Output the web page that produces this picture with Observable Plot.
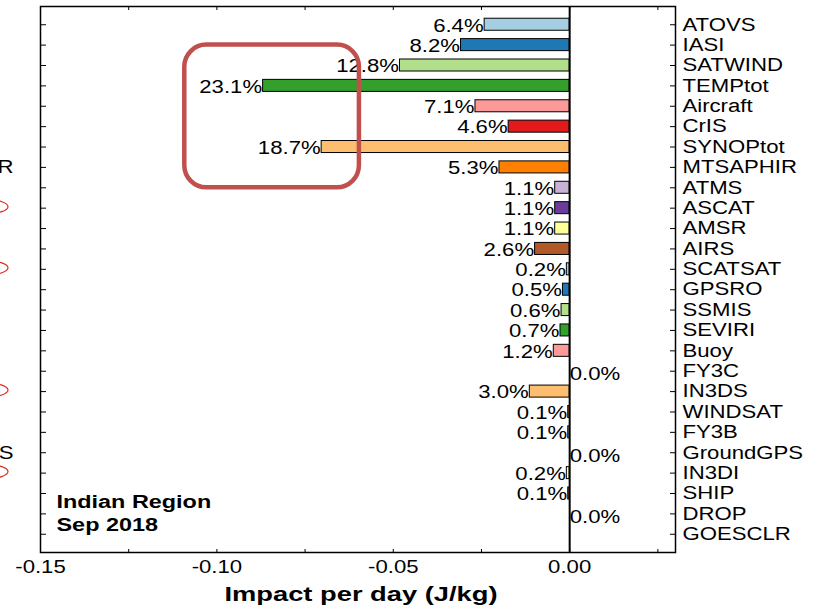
<!DOCTYPE html>
<html><head><meta charset="utf-8">
<script src="https://cdn.jsdelivr.net/npm/d3@7"></script>
<script src="https://cdn.jsdelivr.net/npm/@observablehq/plot@0.6"></script>
<style>
html,body{margin:0;padding:0;background:#fff;}
#chart svg{display:block;font-family:"Liberation Sans",Arial,sans-serif;}
</style></head><body><div id="chart"></div>
<script>
const instruments = ["ATOVS","IASI","SATWIND","TEMPtot","Aircraft","CrIS","SYNOPtot","MTSAPHIR","ATMS","ASCAT","AMSR","AIRS","SCATSAT","GPSRO","SSMIS","SEVIRI","Buoy","FY3C","IN3DS","WINDSAT","FY3B","GroundGPS","IN3DI","SHIP","DROP","GOESCLR"];
const impact = [-0.0241,-0.0308,-0.0481,-0.0869,-0.0267,-0.0173,-0.0703,-0.0199,-0.0041,-0.0041,-0.0041,-0.0098,-0.0008,-0.0019,-0.0023,-0.0026,-0.0045,0,-0.0113,-0.0004,-0.0004,0,-0.0008,-0.0004,0,0];
const shareLabels = ["6.4%","8.2%","12.8%","23.1%","7.1%","4.6%","18.7%","5.3%","1.1%","1.1%","1.1%","2.6%","0.2%","0.5%","0.6%","0.7%","1.2%","0.0%","3.0%","0.1%","0.1%","0.0%","0.2%","0.1%","0.0%",null];
const palette = ["#a6cee3","#1f78b4","#b2df8a","#33a02c","#fb9a99","#e31a1c","#fdbf6f","#ff7f00","#cab2d6","#6a3d9a","#ffff99","#b15928",
                 "#a6cee3","#1f78b4","#b2df8a","#33a02c","#fb9a99","#e31a1c","#fdbf6f","#ff7f00","#cab2d6","#6a3d9a","#ffff99","#b15928",
                 "#a6cee3","#1f78b4"];
const xTicks = [-0.15,-0.10,-0.05,0.00];
const xMinorTicks = [-0.15,-0.125,-0.10,-0.075,-0.05,-0.025,0.00,0.025];
const regionText = ["Indian Region","Sep 2018"];
const xTitle = "Impact per day (J/kg)";
const highlight = {x1:-0.1091, x2:-0.0596, from:"IASI", to:"ATMS"};
const neighbourCircled = ["ASCAT","SCATSAT","IN3DS","IN3DI"];
const neighbourRows = ["MTSAPHIR","GroundGPS"];
const neighbourFragments = ["R","S"];

const rows = instruments.map((name,i)=>({name, value: impact[i], label: shareLabels[i]}));
const neighbours = neighbourRows.map((name,i)=>({name, text: neighbourFragments[i]}));
const FONT = '"Liberation Sans",Arial,sans-serif';

const chart = Plot.plot({
  width: 827, height: 616,
  marginTop: 6, marginBottom: 64, marginLeft: 40, marginRight: 152,
  style: {fontFamily: FONT, fontSize: "18px", color: "black", background: "white"},
  x: {domain: [-0.15, 0.03], axis: null},
  y: {domain: instruments, type: "band", paddingInner: 0.41, paddingOuter: 0.6, round: false, axis: null},
  color: {domain: instruments, range: palette},
  marks: [
    Plot.barX(rows, {x: "value", y: "name", fill: "name", stroke: "black", strokeWidth: 1}),
    Plot.ruleX([0], {stroke: "black", strokeWidth: 2}),
    Plot.frame({stroke: "black", strokeWidth: 1.5}),
    Plot.axisX({anchor: "bottom", ticks: xMinorTicks, tickSize: -3, tickFormat: () => "", label: null}),
    Plot.axisX({anchor: "top", ticks: xMinorTicks, tickSize: -3, tickFormat: () => "", label: null}),
    Plot.axisX({anchor: "bottom", ticks: xTicks, tickSize: 0, tickPadding: 8, tickFormat: d => d.toFixed(2), label: null, fontSize: 18}),
    Plot.axisY({anchor: "left", tickSize: -6, tickFormat: () => "", label: null}),
    Plot.axisY({anchor: "right", tickSize: -6, tickFormat: () => "", label: null}),
    Plot.axisY({anchor: "right", tickSize: 0, tickPadding: 7, label: null, fontSize: 18}),
    Plot.text(rows.filter(d => d.label && d.value < 0), {x: "value", y: "name", text: "label", textAnchor: "end", dx: -1, dy: 1, fontSize: 18}),
    Plot.text(rows.filter(d => d.label && d.value === 0), {x: "value", y: "name", text: "label", textAnchor: "start", dx: 0, dy: 3, fontSize: 18}),
    Plot.text([regionText[0]], {frameAnchor: "bottom-left", dx: 16, dy: -45, fontWeight: "bold", fontSize: 18, textAnchor: "start"}),
    Plot.text([regionText[1]], {frameAnchor: "bottom-left", dx: 16, dy: -22, fontWeight: "bold", fontSize: 18, textAnchor: "start"}),
    Plot.text([xTitle], {frameAnchor: "bottom", dx: 3, dy: 48, fontWeight: "bold", fontSize: 21}),
    Plot.text(neighbours, {y: "name", text: "text", frameAnchor: "left", dx: -27, textAnchor: "end", fontSize: 18})
  ]
});
document.getElementById("chart").append(chart);

// annotations drawn with the chart's own scales
const sx = chart.scale("x"), sy = chart.scale("y");
const svg = d3.select(chart.tagName.toLowerCase() === "svg" ? chart : chart.querySelector("svg"));
const yc = n => sy.apply(n) + sy.bandwidth / 2;
const hx1 = sx.apply(highlight.x1), hx2 = sx.apply(highlight.x2);
const hy1 = yc(highlight.from), hy2 = yc(highlight.to);
svg.append("rect")
  .attr("x", hx1).attr("y", hy1).attr("width", hx2 - hx1).attr("height", hy2 - hy1)
  .attr("rx", 22).attr("ry", 22)
  .attr("fill", "none").attr("stroke", "#c0504d").attr("stroke-width", 4.5);
svg.append("g").selectAll("ellipse").data(neighbourCircled).join("ellipse")
  .attr("cx", -13).attr("cy", d => yc(d) - 1).attr("rx", 21).attr("ry", 7)
  .attr("fill", "none").attr("stroke", "#e0281f").attr("stroke-width", 1.2);

// horizontal stretch of lettering, as in the reference
chart.querySelectorAll("text").forEach(t => {
  if (t.querySelector("tspan")) return;
  const len = t.getComputedTextLength();
  if (!len) return;
  const w = parseInt(getComputedStyle(t).fontWeight) || 400;
  const f = w >= 600 ? 1.3 : 1.23;
  t.setAttribute("textLength", (len * f).toFixed(1));
  t.setAttribute("lengthAdjust", "spacingAndGlyphs");
});
</script></body></html>
